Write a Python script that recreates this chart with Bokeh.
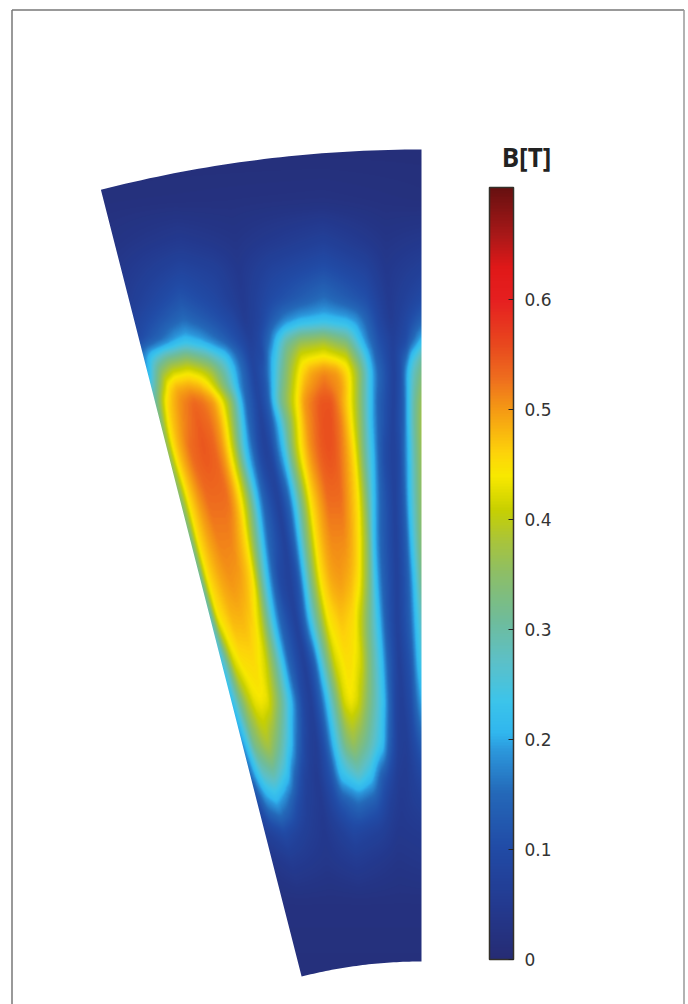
import numpy as np
from bokeh.embed import file_html
from bokeh.resources import INLINE
from bokeh.plotting import figure
from bokeh.models import (LinearColorMapper, ColorBar, FixedTicker, Range1d, Label)

# --- colour scale (value in tesla -> colour)
SCALE_B = [0, .05, .10, .15, .19, .205, .235, .27, .31, .35, .38, .41, .44, .46, .50, .53, .56, .60, .63, .66, .702]
SCALE_C = ["#262c74", "#233a90", "#214ba6", "#2468b8", "#2c98dc", "#30b6ee", "#3cc4ea", "#5cc0c8", "#70bc98",
           "#8cbe68", "#a8c43c", "#c8d000", "#f8e800", "#fdd40a", "#f59a14", "#ee6c1e", "#e8481e",
           "#e62020", "#e01818", "#a81818", "#681010"]
TICK_VALUES = [0, .1, .2, .3, .4, .5, .6]
TICK_LABELS = ["0", "0.1", "0.2", "0.3", "0.4", "0.5", "0.6"]
B_MAX = 0.702
TITLE = "B[T]"

# --- sections through the field: (x, B), named by their height
S150 = [(100, .012), (421, .012)]
S200 = [(103, .018), (323, .025), (421, .018)]
S240 = [(113, .03), (180, .05), (235, .035), (323, .07), (385, .035), (421, .045)]
S270 = [(122, .045), (180, .085), (215, .07), (238, .045), (270, .08), (323, .11), (365, .08), (385, .045), (421, .07)]
S300 = [(129, .06), (180, .12), (215, .09), (242, .05), (270, .10), (323, .16), (365, .11), (388, .05), (408, .08), (421, .10)]
S320 = [(134, .08), (160, .12), (183, .155), (210, .12), (232, .09), (244, .055), (258, .08), (285, .18), (300, .21),
        (323, .225), (345, .21), (355, .19), (378, .09), (390, .055), (405, .09), (421, .14)]
S340 = [(139, .10), (160, .15), (175, .20), (185, .22), (200, .20), (215, .16), (230, .12), (250, .07), (258, .09),
        (268, .15), (275, .22), (285, .30), (300, .36), (323, .38), (345, .33), (350, .30), (360, .22), (368, .16),
        (378, .11), (392, .07), (405, .10), (413, .16), (421, .22)]
S355 = [(143, .18), (150, .23), (165, .30), (185, .34), (205, .30), (225, .23), (235, .16), (250, .08), (262, .10),
        (270, .20), (274, .23), (285, .33), (300, .42), (323, .44), (345, .41), (355, .33), (365, .24), (375, .14),
        (392, .07), (405, .14), (410, .22), (421, .30)]
S370 = [(147, .20), (153, .28), (160, .35), (172, .41), (187, .43), (200, .41), (210, .38), (223, .30), (233, .22),
        (240, .16), (253, .08), (263, .12), (272, .22), (280, .30), (290, .38), (300, .45), (310, .49), (323, .51),
        (335, .50), (347, .45), (357, .37), (363, .30), (370, .22), (377, .15), (393, .07), (400, .11), (407, .22),
        (413, .28), (421, .33)]
S385 = [(150, .25), (157, .33), (163, .40), (167, .45), (175, .48), (187, .49), (198, .48), (207, .45), (215, .40),
        (225, .32), (235, .23), (240, .17), (255, .08), (265, .12), (272, .22), (280, .31), (290, .39), (298, .45),
        (305, .49), (323, .53), (340, .50), (347, .46), (356, .38), (363, .30), (370, .22), (377, .15), (393, .07),
        (401, .12), (407, .22), (413, .29), (421, .35)]
S400 = [(154, .30), (160, .38), (165, .45), (172, .48), (180, .51), (193, .535), (202, .525), (212, .50), (220, .45),
        (230, .36), (240, .22), (245, .15), (258, .08), (267, .13), (272, .22), (280, .32), (290, .40), (297, .45),
        (303, .50), (320, .55), (330, .55), (338, .51), (348, .45), (357, .37), (363, .30), (370, .22), (377, .14),
        (393, .07), (402, .13), (407, .22), (413, .30), (421, .37)]
S425 = [(161, .34), (167, .44), (172, .47), (182, .51), (198, .545), (210, .53), (218, .50), (225, .45), (232, .37),
        (238, .29), (243, .22), (248, .15), (261, .07), (270, .12), (279, .22), (285, .30), (295, .41), (299, .45),
        (306, .50), (320, .55), (330, .555), (340, .52), (350, .45), (360, .35), (370, .22), (378, .14), (392, .07),
        (402, .13), (407, .22), (413, .30), (421, .38)]
S450 = [(167, .36), (173, .45), (180, .49), (190, .535), (203, .55), (213, .54), (222, .50), (228, .45), (235, .37),
        (240, .29), (245, .22), (249, .18), (253, .14), (259, .09), (265, .07), (270, .09), (275, .14), (278, .18),
        (282, .22), (286, .28), (290, .34), (295, .40), (300, .45), (305, .48), (310, .51), (320, .545), (328, .555),
        (335, .545), (345, .50), (350, .47), (353, .45), (358, .39), (363, .32), (368, .26), (372, .22), (375, .18),
        (378, .14), (383, .10), (392, .07), (398, .09), (402, .14), (405, .18), (408, .22), (413, .29), (418, .34),
        (421, .37)]
S500 = [(180, .34), (188, .45), (198, .50), (207, .53), (227, .53), (233, .50), (240, .45), (248, .36), (257, .22),
        (263, .14), (277, .07), (287, .13), (293, .22), (300, .32), (310, .45), (320, .50), (327, .53), (340, .53),
        (347, .50), (357, .45), (365, .35), (373, .22), (380, .14), (394, .07), (403, .13), (408, .22), (417, .32),
        (421, .36)]
S540 = [(190, .32), (197, .45), (207, .49), (217, .515), (230, .515), (237, .49), (245, .45), (253, .35), (262, .22),
        (267, .15), (284, .07), (293, .14), (298, .22), (305, .33), (315, .45), (323, .49), (330, .51), (343, .51),
        (350, .49), (358, .45), (367, .35), (373, .22), (380, .14), (395, .07), (405, .13), (410, .22), (418, .32),
        (421, .35)]
S580 = [(200, .30), (205, .42), (210, .46), (220, .49), (230, .505), (240, .495), (248, .47), (252, .45), (258, .36),
        (262, .29), (267, .22), (272, .15), (279, .09), (288, .07), (297, .11), (303, .22), (310, .33), (320, .45),
        (330, .49), (340, .50), (350, .48), (358, .45), (367, .35), (375, .22), (382, .14), (396, .07), (407, .13),
        (413, .22), (421, .33)]
S620 = [(210, .27), (217, .44), (232, .48), (242, .48), (252, .46), (260, .40), (273, .22), (280, .14), (295, .07),
        (303, .14), (308, .22), (317, .33), (327, .44), (340, .47), (353, .45), (362, .38), (378, .22), (385, .13),
        (396, .07), (408, .13), (415, .22), (421, .28)]
S660 = [(221, .24), (225, .30), (232, .42), (240, .45), (253, .455), (264, .42), (273, .33), (282, .22), (288, .14),
        (303, .065), (313, .13), (318, .22), (326, .33), (334, .42), (345, .45), (350, .45), (360, .42), (368, .34),
        (381, .22), (387, .14), (398, .065), (410, .12), (417, .22), (421, .25)]
S700 = [(231, .22), (237, .30), (245, .38), (253, .43), (260, .44), (267, .43), (277, .35), (285, .27), (290, .22),
        (295, .16), (302, .09), (310, .065), (319, .13), (326, .22), (335, .33), (343, .42), (350, .44), (357, .42),
        (370, .32), (383, .22), (388, .15), (395, .08), (401, .065), (410, .10), (418, .18), (421, .21)]
S745 = [(242, .18), (247, .24), (253, .32), (263, .37), (268, .38), (280, .30), (290, .22), (296, .15), (305, .08),
        (315, .055), (325, .12), (333, .22), (345, .33), (353, .36), (367, .30), (382, .22), (388, .14), (397, .07),
        (405, .06), (415, .10), (421, .13)]
S775 = [(250, .15), (255, .21), (263, .27), (273, .29), (287, .22), (294, .14), (303, .08), (316, .05), (331, .12),
        (340, .22), (358, .27), (371, .22), (381, .13), (397, .06), (405, .055), (421, .09)]
S800 = [(256, .10), (265, .18), (275, .21), (285, .17), (295, .11), (305, .07), (320, .05), (340, .12), (357, .16),
        (375, .13), (390, .07), (400, .05), (421, .07)]
S830 = [(264, .07), (283, .10), (305, .065), (323, .045), (353, .09), (380, .07), (397, .045), (421, .05)]
S860 = [(271, .04), (290, .055), (325, .04), (355, .055), (397, .035), (421, .04)]
S900 = [(281, .022), (421, .022)]
S975 = [(301, .014), (421, .014)]
SECTION_Y = [150, 200, 240, 270, 300, 320, 340, 355, 370, 385, 400, 425, 450, 500, 540, 580, 620, 660, 700, 745, 775, 800, 830, 860, 900, 975]
SECTIONS = [S150, S200, S240, S270, S300, S320, S340, S355, S370, S385, S400, S425, S450, S500, S540, S580, S620, S660, S700, S745, S775, S800, S830, S860, S900, S975]

# --- wedge of the model (page units, y downwards)
HUB_X, HUB_Y = 421, 1446
R_OUT, R_IN = 1297, 485
WEDGE_SLOPE = 0.2551


def left_edge(y):
    return HUB_X - (HUB_Y - np.asarray(y, float)) * WEDGE_SLOPE


# sections -> table over (height, fraction of wedge width)
fr = np.linspace(0, 1, 321)
table = []
for yi, sec in zip(SECTION_Y, SECTIONS):
    xs = np.array([a for a, _ in sec], float)
    bs = np.array([b for _, b in sec], float)
    xl = left_edge(yi)
    table.append(np.interp(fr, (xs - xl) / (HUB_X - xl), bs))
table = np.array(table)

X = np.arange(90, 426)
Y = np.arange(140, 986)
# resolve the table on every page row, then even out reading noise along the radial direction:
# more along the straight flanks of the lobes, lightly round their ends
fine = np.array([np.interp(Y, SECTION_Y, table[:, k]) for k in range(len(fr))]).T
half = np.interp(Y, [140, 400, 450, 640, 690, 986], [7, 7, 18, 18, 8, 8]).astype(int)
steady = np.array([fine[max(0, j - half[j]):j + half[j] + 1].mean(axis=0) for j in range(len(Y))])
field = np.zeros((len(Y), len(X)))
for j, yy in enumerate(Y):
    xl = left_edge(yy)
    field[j] = np.interp((X - xl) / (HUB_X - xl), fr, steady[j])


def smooth(a, n, axis):
    k = np.ones(n) / n
    pad = n // 2
    w = [(0, 0), (0, 0)]
    w[axis] = (pad, pad)
    b = np.pad(a, w, mode="edge")
    return np.apply_along_axis(lambda m: np.convolve(m, k, mode="valid"), axis, b)


for _ in range(2):
    field = smooth(field, 3, 0)
    field = smooth(field, 3, 1)


# palette from the read colour stops
def rgb(h):
    return [int(h[i:i + 2], 16) for i in (1, 3, 5)]


lev = np.linspace(0, B_MAX, 256)
cols = np.array([rgb(c) for c in SCALE_C], float)
palette = ["#%02x%02x%02x" % tuple(int(round(np.interp(v, SCALE_B, cols[:, i]))) for i in range(3)) for v in lev]
mapper = LinearColorMapper(palette=palette, low=0, high=B_MAX)

p = figure(width=688, height=1004, x_range=Range1d(0, 688), y_range=Range1d(1004, 0),
           toolbar_location=None, output_backend="svg", min_border=0, outline_line_color=None)
p.axis.visible = False
p.grid.visible = False

p.image(image=[field], x=90, y=140, dw=336, dh=846, color_mapper=mapper)

# white mask round the wedge
a_l = np.arctan(WEDGE_SLOPE)
ang = np.linspace(0, a_l, 40)
top_x = HUB_X - R_OUT * np.sin(ang)
top_y = HUB_Y - R_OUT * np.cos(ang)
bot_x = HUB_X - R_IN * np.sin(ang[::-1])
bot_y = HUB_Y - R_IN * np.cos(ang[::-1])
hole_x = list(top_x) + list(bot_x)
hole_y = list(top_y) + list(bot_y)
p.multi_polygons(xs=[[[[85, 430, 430, 85], hole_x]]], ys=[[[[135, 135, 990, 990], hole_y]]],
                 fill_color="white", line_color=None)

# page frame
p.line([11.5, 11.5], [1004, 9.5], line_color="#777777", line_width=1.5)
p.line([11.5, 683.5], [9.5, 9.5], line_color="#777777", line_width=1.5)
p.line([683.5, 683.5], [9.5, 1004], line_color="#999999", line_width=1.5)

bar = ColorBar(color_mapper=mapper, location=(489, 45), width=24, height=772, padding=0,
               ticker=FixedTicker(ticks=TICK_VALUES),
               major_label_overrides={v: t for v, t in zip(TICK_VALUES, TICK_LABELS)},
               major_tick_in=5, major_tick_line_color="#222222", minor_tick_line_color=None,
               bar_line_color="#33302a", bar_line_width=1.5, label_standoff=11,
               major_label_text_font="DejaVu Sans", major_label_text_font_size="17px",
               major_label_text_color="#333333", background_fill_alpha=0, border_line_color=None)
p.add_layout(bar, "center")

# tick marks on the bar's left side
tick_y = [959 - v / B_MAX * 772 for v in TICK_VALUES[1:]]
p.segment(x0=[489] * 6, x1=[494] * 6, y0=tick_y, y1=tick_y, line_color="#222222", line_width=1)

p.add_layout(Label(x=526, y=156, text=TITLE, text_font="Open Sans", text_font_style="bold",
                   text_font_size="26px", text_color="#222222", text_align="center", text_baseline="middle"))

html = file_html(p, INLINE)
open("out.html", "w").write(html)
